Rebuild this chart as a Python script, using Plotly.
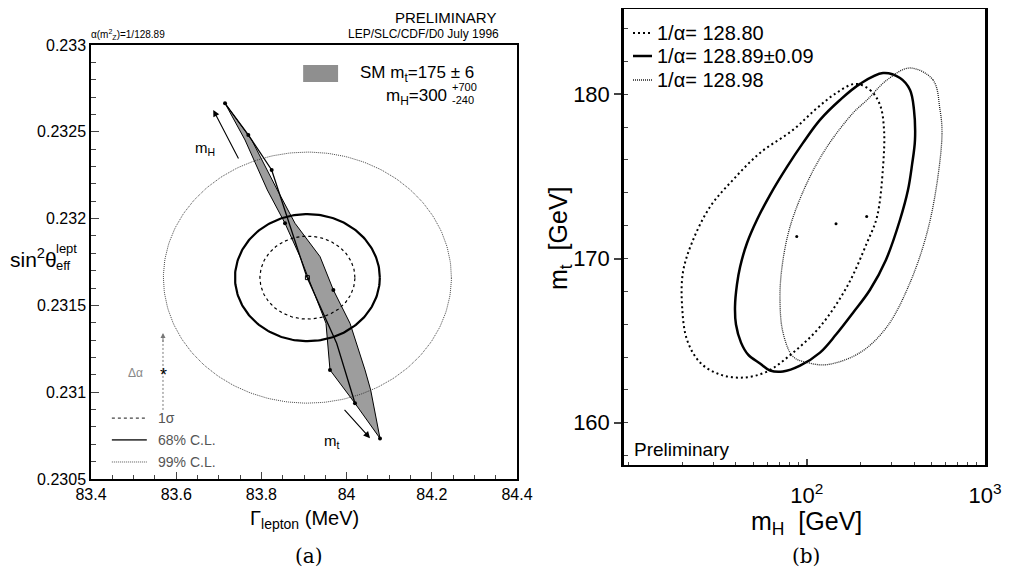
import numpy as np
import plotly.graph_objects as go

# ---------------- Panel (a) data ----------------
ell_center_gamma = 83.908
ell_center_s2w = 0.23166
ell_labels = ["1σ", "68% C.L.", "99% C.L."]
ell_rx = [0.1115, 0.170, 0.338]          # MeV half-widths
ell_ry = [0.000239, 0.000366, 0.000723]  # half-heights

band_gamma = [83.7146, 83.7615, 83.8139, 83.8554, 83.8906, 83.9219, 83.9516, 83.9610,
              84.0197, 84.0784, 84.0721, 84.0565, 84.0432, 84.0080, 83.9689, 83.9376,
              83.8789, 83.8374, 83.7772, 83.7146]
band_s2w = [0.232664, 0.232453, 0.232165, 0.231973, 0.231781, 0.231589, 0.231397, 0.231128,
            0.230936, 0.230734, 0.230821, 0.231013, 0.231128, 0.231397, 0.231589, 0.231781,
            0.231973, 0.232165, 0.232453, 0.232664]
band_mid_gamma = [83.7146, 83.7693, 83.8241, 83.9063, 83.9767, 84.0197]
band_mid_s2w = [0.232664, 0.232482, 0.232280, 0.231666, 0.231282, 0.230936]
grid_gamma = [83.7146, 83.7693, 83.8241, 83.8554, 83.9689, 83.9610, 84.0197, 84.0784]
grid_s2w = [0.232664, 0.232482, 0.232280, 0.231973, 0.231589, 0.231128, 0.230936, 0.230734]

x_ticks_a = [83.4, 83.6, 83.8, 84.0, 84.2, 84.4]
x_ticktext_a = ["83.4", "83.6", "83.8", "84", "84.2", "84.4"]
y_ticks_a = [0.2305, 0.231, 0.2315, 0.232, 0.2325, 0.233]
y_ticktext_a = ["0.2305", "0.231", "0.2315", "0.232", "0.2325", "0.233"]

# ---------------- Panel (b) data ----------------
names_b = ["1/α= 128.80", "1/α= 128.89±0.09", "1/α= 128.98"]
mh_080 = [186.6, 226.5, 257.7, 271.4, 267.9, 247.9, 217.8, 168.3, 118.7, 83.8, 59.9, 43.9,
          32.6, 25.2, 21.3, 20.0, 20.2, 22.7, 28.7, 38.6, 54.7, 83.8, 111.3, 144.1, 186.6]
mt_080 = [180.63, 180.26, 179.35, 177.83, 175.58, 172.54, 170.96, 168.29, 165.85, 164.27,
          163.12, 162.75, 162.94, 163.67, 165.06, 167.07, 169.14, 170.96, 173.15, 174.79,
          176.43, 177.83, 179.05, 180.02, 180.63]
mh_089 = [267.9, 333.7, 379.7, 399.6, 404.8, 389.6, 370.0, 333.7, 278.5, 226.5, 181.9, 146.0,
          118.7, 91.7, 73.6, 62.3, 54.7, 46.9, 42.8, 40.1, 39.6, 40.6, 42.3, 46.3, 52.6, 62.3,
          77.5, 95.3, 118.7, 153.7, 199.1, 267.9]
mt_089 = [181.29, 180.99, 180.26, 179.05, 177.22, 175.70, 174.18, 172.36, 169.93, 168.10,
          166.70, 165.37, 164.27, 163.48, 163.12, 163.18, 163.61, 164.15, 164.88, 165.98,
          167.07, 168.41, 169.50, 170.96, 172.36, 173.88, 175.58, 177.04, 178.44, 179.65,
          180.63, 181.29]
mh_098 = [379.7, 510.9, 559.3, 573.9, 538.2, 472.9, 379.7, 282.1, 199.1, 130.0, 100.4, 83.8,
          73.6, 70.8, 72.7, 80.6, 100.4, 130.0, 181.9, 217.8, 282.1, 379.7]
mt_098 = [181.60, 180.87, 179.05, 177.65, 174.61, 171.57, 168.53, 165.85, 164.27, 163.54,
          163.67, 164.03, 165.49, 167.50, 169.50, 171.93, 174.61, 176.80, 178.86, 179.65,
          180.87, 181.60]
best_mh = [87.9, 146.0, 216.9]
best_mt = [171.34, 172.12, 172.56]

y_ticks_b = [160, 170, 180]
x_ticks_b = [100, 1000]
x_ticktext_b = ["10<sup>2</sup>", "10<sup>3</sup>"]
x_minor_b = [10, 20, 30, 40, 50, 60, 70, 80, 90, 200, 300, 400, 500, 600, 700, 800, 900]

# ---------------- helpers ----------------
# the page body has an 8px margin, so the figure is 16px smaller and all
# reference pixel positions are shifted by 8px
OFF = 8
W, H = 1022 - 2 * OFF, 572 - OFF
SANS = "Liberation Sans, Arial, sans-serif"
SERIF = "DejaVu Serif, Liberation Serif, serif"


def px(x):
    return min(max((x - OFF) / W, 0.0), 1.0)


def py(y):
    return min(max(1 - (y - OFF) / H, 0.0), 1.0)


fig = go.Figure()


def note(x, y, text, size, xanchor="center", color="black", family=SANS, angle=0):
    """Text placed at a reference-pixel position (x, y), vertically centred."""
    fig.add_annotation(x=px(x), y=py(y), xref="paper", yref="paper", text=text,
                       showarrow=False, xanchor=xanchor, yanchor="middle",
                       textangle=angle, font=dict(family=family, size=size, color=color))


def dnote(x, y, text, size, xanchor="center", color="black", axes=("x", "y")):
    """Text placed at data coordinates."""
    fig.add_annotation(x=x, y=y, xref=axes[0], yref=axes[1], text=text, showarrow=False,
                       xanchor=xanchor, yanchor="middle",
                       font=dict(family=SANS, size=size, color=color))


# ---- Panel (a) ----
fig.add_trace(go.Scatter(x=band_gamma, y=band_s2w, fill="toself", fillcolor="#9d9d9d",
                         mode="lines", line=dict(color="black", width=1),
                         xaxis="x", yaxis="y", showlegend=False, hoverinfo="skip"))
fig.add_trace(go.Scatter(x=band_mid_gamma, y=band_mid_s2w, mode="lines",
                         line=dict(color="black", width=1.3), xaxis="x", yaxis="y",
                         showlegend=False, hoverinfo="skip"))
fig.add_trace(go.Scatter(x=grid_gamma, y=grid_s2w, mode="markers",
                         marker=dict(color="black", size=4), xaxis="x", yaxis="y",
                         showlegend=False, hoverinfo="skip"))

ell_styles = [dict(color="black", width=1.2, dash="3px,3px"),
              dict(color="black", width=2.2),
              dict(color="#333", width=0.9, dash="1px,1px")]
t = np.linspace(0, 2 * np.pi, 241)
for rx, ry, st in zip(ell_rx, ell_ry, ell_styles):
    fig.add_trace(go.Scatter(x=ell_center_gamma + rx * np.cos(t),
                             y=ell_center_s2w + ry * np.sin(t), mode="lines",
                             line=st, xaxis="x", yaxis="y", showlegend=False,
                             hoverinfo="skip"))
fig.add_trace(go.Scatter(x=[ell_center_gamma], y=[ell_center_s2w], mode="markers",
                         marker=dict(symbol="square-open", size=4, color="black"),
                         xaxis="x", yaxis="y", showlegend=False, hoverinfo="skip"))

# legend of panel (a), bottom-left
leg_rows = [0.230851, 0.230725, 0.230598]
for lab, yy, st in zip(ell_labels, leg_rows, ell_styles):
    fig.add_trace(go.Scatter(x=[83.449, 83.531], y=[yy, yy], mode="lines",
                             line=dict(color="#444", width=st["width"] if st["width"] < 2 else 1.8,
                                       dash=st.get("dash", "solid")),
                             xaxis="x", yaxis="y", showlegend=False, hoverinfo="skip"))
    dnote(83.552, yy, lab, 14, xanchor="left", color="#555")

# Delta alpha arrow
fig.add_trace(go.Scatter(x=[83.569, 83.569], y=[0.230898, 0.23130], mode="lines",
                         line=dict(color="#777", width=1, dash="2px,2px"),
                         xaxis="x", yaxis="y", showlegend=False, hoverinfo="skip"))
fig.add_annotation(x=83.569, y=0.231341, ax=83.569, ay=0.23128, xref="x", yref="y",
                   axref="x", ayref="y", showarrow=True, arrowhead=2, arrowsize=1,
                   arrowwidth=1, arrowcolor="#777", text="")
dnote(83.571, 0.231100, "*", 18)
dnote(83.505, 0.231112, "Δα", 12, color="#888")

# m_H and m_t arrows
fig.add_annotation(x=83.687, y=0.232626, ax=83.748, ay=0.232338, xref="x", yref="y",
                   axref="x", ayref="y", showarrow=True, arrowhead=2, arrowsize=1.2,
                   arrowwidth=1.1, arrowcolor="black", text="")
dnote(83.668, 0.232405, "m<sub>H</sub>", 15)
fig.add_annotation(x=84.055, y=0.230735, ax=83.992, ay=0.230907, xref="x", yref="y",
                   axref="x", ayref="y", showarrow=True, arrowhead=2, arrowsize=1.2,
                   arrowwidth=1.1, arrowcolor="black", text="")
dnote(83.966, 0.230715, "m<sub>t</sub>", 15)

# SM legend (top right of panel a)
fig.add_shape(type="rect", xref="x", yref="y", x0=83.898, x1=83.980, y0=0.232787,
              y1=0.232885, fillcolor="#8f8f8f", line=dict(width=0))
note(358, 74, "SM m<sub>t</sub>=175 ± 6", 17, xanchor="left")
note(449, 97, "m<sub>H</sub>=300", 17, xanchor="right")
note(450, 87, "+700", 11, xanchor="left")
note(450, 100, "-240", 11, xanchor="left")

# Titles of panel (a)
note(498, 18, "PRELIMINARY", 15, xanchor="right")
note(501, 34, "LEP/SLC/CDF/D0 July 1996", 12, xanchor="right")
note(89, 35, "α(m<sup>2</sup><sub>Z</sub>)=1/128.89", 10, xanchor="left")
note(3, 258, "sin<sup>2</sup>θ", 21, xanchor="left")
note(54, 249, "lept", 13, xanchor="left")
note(54, 265, "eff", 13, xanchor="left")
note(304, 519, "Γ<sub>lepton</sub> (MeV)", 20)
note(309, 556, "(a)", 20, family=SERIF)

# ---- Panel (b) ----
fig.add_trace(go.Scatter(x=mh_080, y=mt_080, mode="lines", line_shape="spline",
                         line=dict(color="black", width=2, dash="2px,3px"),
                         xaxis="x2", yaxis="y2", showlegend=False, hoverinfo="skip"))
fig.add_trace(go.Scatter(x=mh_089, y=mt_089, mode="lines", line_shape="spline",
                         line=dict(color="black", width=2.5),
                         xaxis="x2", yaxis="y2", showlegend=False, hoverinfo="skip"))
fig.add_trace(go.Scatter(x=mh_098, y=mt_098, mode="lines", line_shape="spline",
                         line=dict(color="#222", width=1.3, dash="1px,1px"),
                         xaxis="x2", yaxis="y2", showlegend=False, hoverinfo="skip"))
fig.add_trace(go.Scatter(x=best_mh, y=best_mt, mode="markers",
                         marker=dict(color="black", size=3),
                         xaxis="x2", yaxis="y2", showlegend=False, hoverinfo="skip"))

leg_b_y = [33, 56, 80]
leg_b_styles = [dict(color="black", width=2, dash="2px,3px"),
                dict(color="black", width=2.5),
                dict(color="#222", width=1.3, dash="1px,1px")]
for nm, yy, st in zip(names_b, leg_b_y, leg_b_styles):
    fig.add_shape(type="line", xref="paper", yref="paper", x0=px(633), x1=px(652),
                  y0=py(yy), y1=py(yy), line=st)
    note(655, yy, nm, 20, xanchor="left")
note(632, 449, "Preliminary", 19, xanchor="left")
note(560, 238, "m<sub>t</sub>  [GeV]", 25, angle=-90)
note(806, 523, "m<sub>H</sub>  [GeV]", 25)
note(806, 556, "(b)", 20, family=SERIF)

fig.update_layout(
    template="none",
    width=W, height=H, margin=dict(l=0, r=0, t=0, b=0, pad=0),
    paper_bgcolor="white", plot_bgcolor="white",
    font=dict(family=SANS, color="black"),
    xaxis=dict(domain=[px(91), px(517)], range=[83.4, 84.4], tickvals=x_ticks_a,
               ticktext=x_ticktext_a, ticks="inside", ticklen=7, tickwidth=1,
               minor=dict(dtick=0.05, ticks="inside", ticklen=4, tickwidth=1),
               showline=True, linecolor="black", linewidth=1.5, mirror=True,
               showgrid=False, zeroline=False, anchor="y", automargin=False,
               tickfont=dict(family=SANS, size=16, color="black")),
    yaxis=dict(domain=[py(479), py(45)], range=[0.2305, 0.233], tickvals=y_ticks_a,
               ticktext=y_ticktext_a, ticks="inside", ticklen=8, tickwidth=1,
               minor=dict(dtick=0.0001, ticks="inside", ticklen=5, tickwidth=1),
               showline=True, linecolor="black", linewidth=1.5, mirror=True,
               showgrid=False, zeroline=False, anchor="x", automargin=False,
               tickfont=dict(family=SANS, size=16, color="black")),
    xaxis2=dict(domain=[px(624), px(985)], type="log", range=[0.975, 3.0],
                tickvals=x_ticks_b, ticktext=x_ticktext_b, ticks="inside", ticklen=6,
                tickwidth=1.5, ticklabelstandoff=10,
                minor=dict(tickvals=x_minor_b, ticks="inside", ticklen=3, tickwidth=1),
                showline=True, linecolor="black", linewidth=2, mirror=True,
                showgrid=False, zeroline=False, anchor="y2", automargin=False,
                tickfont=dict(family=SANS, size=22, color="black")),
    yaxis2=dict(domain=[py(465), py(9)], range=[157.43, 185.19], tickvals=y_ticks_b,
                ticks="outside", ticklen=7, tickwidth=1.5,
                minor=dict(dtick=2, ticks="inside", ticklen=4, tickwidth=1),
                showline=True, linecolor="black", linewidth=2.5, mirror=True,
                showgrid=False, zeroline=False, anchor="x2", automargin=False,
                tickfont=dict(family=SANS, size=22, color="black")),
)

fig.write_html("out.html")
